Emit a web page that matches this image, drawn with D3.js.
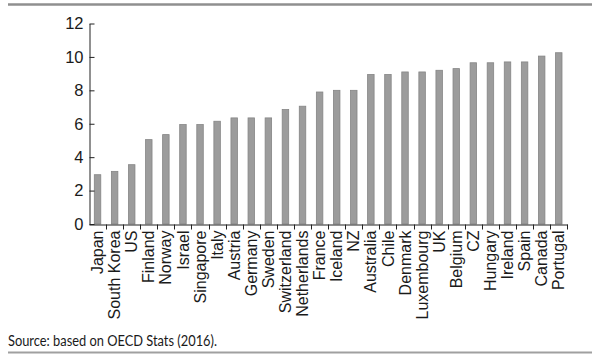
<!DOCTYPE html>
<html><head><meta charset="utf-8">
<script src="https://cdn.jsdelivr.net/npm/d3@7"></script>
<style>body{margin:0;background:#fff;}svg{display:block;}</style>
</head><body>
<script>
const countries = ["Japan","South Korea","US","Finland","Norway","Israel","Singapore","Italy","Austria","Germany","Sweden","Switzerland","Netherlands","France","Iceland","NZ","Australia","Chile","Denmark","Luxembourg","UK","Belgium","CZ","Hungary","Ireland","Spain","Canada","Portugal"];
const values = [2.95,3.15,3.55,5.05,5.35,5.95,5.95,6.15,6.35,6.35,6.35,6.85,7.05,7.9,8.0,8.0,8.95,8.95,9.1,9.1,9.2,9.3,9.65,9.65,9.7,9.7,10.05,10.25];
const yTicks = [0,2,4,6,8,10,12];
const source = "Source: based on OECD Stats (2016).";

const W = 608, H = 357;
const svg = d3.select("body").append("svg").attr("width", W).attr("height", H);

const x = d3.scaleBand().domain(countries).range([89, 567.3]).paddingInner(0.62).paddingOuter(0.31);
const y = d3.scaleLinear().domain([0, 12]).range([224, 23.5]);

// top and bottom rules
svg.append("line").attr("x1", 8).attr("x2", 592).attr("y1", 4.5).attr("y2", 4.5).attr("stroke", "#8f8f8f").attr("stroke-width", 2.5);
svg.append("line").attr("x1", 8).attr("x2", 592).attr("y1", 352.5).attr("y2", 352.5).attr("stroke", "#a0a0a0").attr("stroke-width", 2);

// bars
svg.append("g").selectAll("rect").data(values).join("rect")
  .attr("x", (d, i) => x(countries[i]))
  .attr("y", d => y(d))
  .attr("width", x.bandwidth())
  .attr("height", d => y(0) - y(d))
  .attr("fill", "#9c9c9c")
  .attr("stroke", "#858585")
  .attr("stroke-width", 0.8);

// y axis
const yAxis = svg.append("g").attr("transform", "translate(89.5,0)")
  .call(d3.axisLeft(y).tickValues(yTicks).tickSizeInner(-5).tickSizeOuter(0).tickPadding(6));
yAxis.selectAll("text").attr("font-family", "Liberation Sans, Arial, sans-serif").attr("font-size", 16.5).attr("fill", "#1a1a1a");
yAxis.selectAll("line,path").attr("stroke", "#222");

// x axis
const xAxis = svg.append("g").attr("transform", "translate(0,224.5)")
  .call(d3.axisBottom(x).tickSize(0).tickPadding(0));
xAxis.select("path").attr("stroke", "#222");
xAxis.selectAll("text")
  .attr("font-family", "Liberation Sans, Arial, sans-serif").attr("font-size", 16).attr("fill", "#1a1a1a")
  .attr("text-anchor", "end")
  .attr("transform", "rotate(-90)")
  .attr("x", -6).attr("y", 0).attr("dy", "0.35em");
// boundary ticks
const bounds = d3.range(1, countries.length + 1).map(i => x.range()[0] + i * x.step());
xAxis.selectAll("line.bt").data(bounds).join("line").attr("class", "bt")
  .attr("x1", d => Math.round(d) + 0.5).attr("x2", d => Math.round(d) + 0.5)
  .attr("y1", 0).attr("y2", 5).attr("stroke", "#222");

// source
svg.append("text").attr("x", 8).attr("y", 345.5)
  .attr("font-family", "Lato, Open Sans, sans-serif").attr("font-size", 14.5).attr("fill", "#1a1a1a")
  .attr("textLength", 209).attr("lengthAdjust", "spacingAndGlyphs")
  .text(source);
</script>
</body></html>
